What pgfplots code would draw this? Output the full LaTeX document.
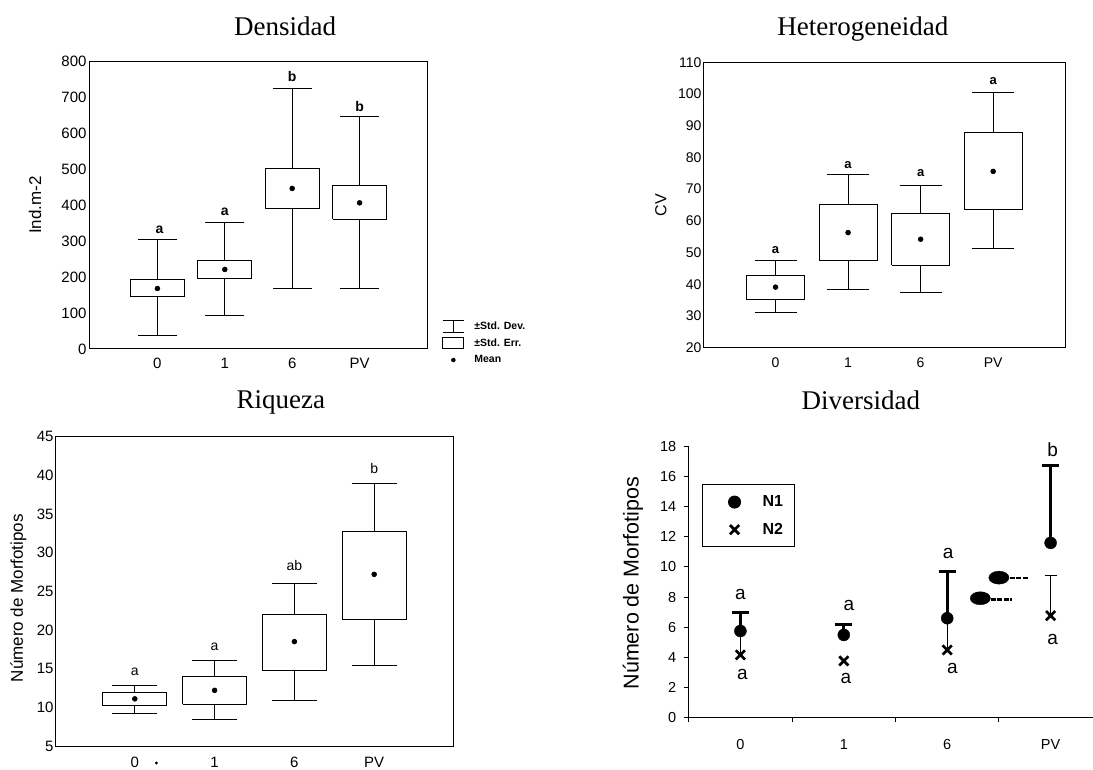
\documentclass[border=0pt]{standalone}
\usepackage{pgfplots}
\pgfplotsset{compat=1.18}
\usepackage{fontspec}
\setmainfont{Liberation Sans}
\newfontfamily\serif{Liberation Serif}
\newcommand{\fs}[1]{\fontsize{#1}{#1}\selectfont}
\begin{document}
\begin{tikzpicture}
\path[use as bounding box] (0pt,0pt) rectangle (1093pt,769pt);
\pgfplotsset{
  myax/.style={scale only axis, anchor=south west, xmin=-1, xmax=4,
    xtick={0,1,2,3}, xticklabels={0,1,6,PV},
    major tick length=0pt, axis line style={line width=1pt},
    /pgf/number format/assume math mode=true,
    xticklabel style={text height=11pt, text depth=0pt},
    title style={anchor=base, font=\serif\fs{27}},
    ylabel style={anchor=center, font=\fs{17}},
    clip=false},
  bx/.style={black, line width=1pt, forget plot, solid, mark=none, fill=white},
  mn/.style={black, only marks, mark=*, mark size=2.5pt, forget plot},
  wk/.style={black, forget plot, only marks, mark=none,
    error bars/.cd, y dir=both, y explicit,
    error bar style={black, solid, line width=1pt},
    error mark=-, error mark options={rotate=90, black, line width=1pt, mark size=#1}},
  myleg/.style={legend image code/.code={\path[draw=none, fill=none] (0pt,-6pt) rectangle (30pt,6pt); \draw[##1] plot coordinates {(23pt,0pt)};}},
}
% ---------------- Densidad
\begin{axis}[myax, at={(90pt,420pt)}, width=337pt, height=288pt,
  ymin=0, ymax=800, ytick={0,100,...,800},
  ticklabel style={font=\fs{15}},
  xticklabel style={yshift=-5pt},
  title={Densidad}, title style={at={(axis description cs:0.579,1)}, yshift=20pt},
  ylabel={Ind.m-2}, ylabel style={at={(axis description cs:-0.163,0.5)}},
  legend style={at={(axis description cs:1.045,0.021)}, anchor=west, draw=none, fill=none,
    inner xsep=0pt, inner ysep=0pt,
    font=\bfseries\fs{10.5}, row sep=4pt,
    /tikz/every odd column/.append style={column sep=8pt}},
  legend cell align=left,
  ]
\addlegendimage{legend image code/.code={\path[draw=none, fill=none] (0pt,-6pt) rectangle (21pt,6pt);
  \draw[black, line width=1pt] (0pt,6pt)--(21pt,6pt) (10.5pt,6pt)--(10.5pt,-6pt) (0pt,-6pt)--(21pt,-6pt);}}
\addlegendentry{±Std. Dev.}
\addlegendimage{legend image code/.code={\path[draw=none, fill=none] (0pt,-6pt) rectangle (21pt,6pt);
  \draw[black, fill=none, line width=1pt] (0pt,-5.5pt) rectangle (21pt,5.5pt);}}
\addlegendentry{±Std. Err.}
\addlegendimage{legend image code/.code={\path[draw=none, fill=none] (0pt,-6pt) rectangle (21pt,6pt);
  \fill[black] (10.5pt,0pt) circle (2pt);}}
\addlegendentry{Mean}
% whiskers (mean +- SD)
\addplot[wk=19.5pt] coordinates {(0,168) += (0,135) -= (0,131)
  (1,221) += (0,130) -= (0,129)
  (2,446) += (0,278) -= (0,278)
  (3,406) += (0,239) -= (0,237)};
% boxes (mean +- SE)
\addplot[bx] coordinates {(-0.4,145) (0.4,145) (0.4,193) (-0.4,193) (-0.4,145)};
\addplot[bx] coordinates {(0.6,195) (1.4,195) (1.4,247) (0.6,247) (0.6,195)};
\addplot[bx] coordinates {(1.6,389) (2.4,389) (2.4,502) (1.6,502) (1.6,389)};
\addplot[bx] coordinates {(2.6,360) (3.4,360) (3.4,455) (2.6,455) (2.6,360)};
\addplot[mn] coordinates {(0,168) (1,221) (2,446) (3,406)};
\node[font=\bfseries\fs{14}] at (axis cs:0.03,330) {a};
\node[font=\bfseries\fs{14}] at (axis cs:1,381) {a};
\node[font=\bfseries\fs{14}] at (axis cs:2,756) {b};
\node[font=\bfseries\fs{14}] at (axis cs:3,675) {b};
\end{axis}
% ---------------- Heterogeneidad
\begin{axis}[myax, at={(703pt,421.3pt)}, width=362.7pt, height=285.4pt,
  ymin=20, ymax=110, ytick={20,30,...,110},
  ticklabel style={font=\fs{14}},
  yticklabel style={xshift=2pt},
  xticklabel style={yshift=-5pt},
  title={Heterogeneidad}, title style={at={(axis description cs:0.441,1)}, yshift=20.5pt},
  ylabel={CV}, ylabel style={at={(axis description cs:-0.116,0.5)}, font=\fs{16}},
  ]
\addplot[wk=21pt] coordinates {(0,39.1) += (0,8.3) -= (0,8.0)
  (1,56.3) += (0,18.3) -= (0,18.1)
  (2,54.2) += (0,17.1) -= (0,16.8)
  (3,75.6) += (0,25.0) -= (0,24.3)};
\addplot[bx] coordinates {(-0.4,35.1) (0.4,35.1) (0.4,42.8) (-0.4,42.8) (-0.4,35.1)};
\addplot[bx] coordinates {(0.6,47.4) (1.4,47.4) (1.4,65.3) (0.6,65.3) (0.6,47.4)};
\addplot[bx] coordinates {(1.6,46.0) (2.4,46.0) (2.4,62.4) (1.6,62.4) (1.6,46.0)};
\addplot[bx] coordinates {(2.6,63.7) (3.4,63.7) (3.4,87.9) (2.6,87.9) (2.6,63.7)};
\addplot[mn] coordinates {(0,39.1) (1,56.3) (2,54.2) (3,75.6)};
\node[font=\bfseries\fs{13}] at (axis cs:0,50.8) {a};
\node[font=\bfseries\fs{13}] at (axis cs:1,77.7) {a};
\node[font=\bfseries\fs{13}] at (axis cs:2,75.0) {a};
\node[font=\bfseries\fs{13}] at (axis cs:3,104) {a};
\end{axis}
% ---------------- Riqueza
\begin{axis}[myax, at={(55pt,23pt)}, width=399pt, height=309.3pt,
  ymin=5, ymax=45, ytick={5,10,...,45},
  ticklabel style={font=\fs{15}},
  yticklabel style={xshift=2pt},
  xticklabel style={yshift=-7pt},
  title={Riqueza}, title style={at={(axis description cs:0.566,1)}, yshift=22pt},
  ylabel={Número de Morfotipos}, ylabel style={at={(axis description cs:-0.092,0.478)}},
  ]
\addplot[wk=22.5pt] coordinates {(0,11.1) += (0,1.7) -= (0,1.9)
  (1,12.2) += (0,3.8) -= (0,3.8)
  (2,18.5) += (0,7.5) -= (0,7.6)
  (3,27.2) += (0,11.7) -= (0,11.8)};
\addplot[bx] coordinates {(-0.4,10.2) (0.4,10.2) (0.4,11.9) (-0.4,11.9) (-0.4,10.2)};
\addplot[bx] coordinates {(0.6,10.4) (1.4,10.4) (1.4,14.0) (0.6,14.0) (0.6,10.4)};
\addplot[bx] coordinates {(1.6,14.7) (2.4,14.7) (2.4,22.0) (1.6,22.0) (1.6,14.7)};
\addplot[bx] coordinates {(2.6,21.4) (3.4,21.4) (3.4,32.8) (2.6,32.8) (2.6,21.4)};
\addplot[mn] coordinates {(0,11.1) (1,12.2) (2,18.5) (3,27.2)};
\addplot[forget plot, only marks, mark=*, mark size=1.3pt, black] coordinates {(0.27,2.8)};
\node[font=\fs{14}] at (axis cs:0,14.6) {a};
\node[font=\fs{14}] at (axis cs:1,17.8) {a};
\node[font=\fs{14}] at (axis cs:2,28.3) {ab};
\node[font=\fs{14}] at (axis cs:3,40.9) {b};
\end{axis}
% ---------------- Diversidad
\begin{axis}[scale only axis, anchor=south west, at={(688.7pt,51.7pt)}, width=404.3pt, height=270.6pt,
  clip=false,
  xmin=-0.5, xmax=3.41, ymin=0, ymax=18, ytick={0,2,...,18},
  axis lines=left, axis line style={-, line width=1pt},
  tick align=outside, major tick length=5pt, tick style={line width=1pt, black},
  xtick={-0.5,0.5,1.5,2.5}, xticklabels={},
  extra x ticks={0,1,2,3}, extra x tick labels={0,1,6,PV},
  extra x tick style={major tick length=0pt, xticklabel style={yshift=-18pt, text height=10.5pt, text depth=0pt}},
  /pgf/number format/assume math mode=true,
  ticklabel style={font=\fs{14.5}},
  yticklabel style={xshift=-4pt},
  title={Diversidad}, title style={at={(axis description cs:0.426,1)}, anchor=base, yshift=30.7pt, font=\serif\fs{27}},
  ylabel={Número de Morfotipos}, ylabel style={at={(axis description cs:-0.138,0.496)}, anchor=center, font=\fs{21.5}},
  legend style={at={(axis description cs:0.033,0.861)}, anchor=north west, draw=black, line width=1pt,
    font=\bfseries\fs{16}, row sep=11pt, inner xsep=9pt, inner ysep=9pt,
    /tikz/every odd column/.append style={column sep=19pt}},
  legend cell align=left,
  ]
% N2 thin error bars
\addplot[forget plot, only marks, mark=none, black, error bars/.cd, y dir=plus, y explicit,
  error bar style={black, line width=1pt}, error mark=none]
  coordinates {(0,4.15) +- (0,1.6) (2,4.48) +- (0,2.1)};
\addplot[forget plot, only marks, mark=none, black, error bars/.cd, y dir=plus, y explicit,
  error bar style={black, line width=1pt}, error mark=-, error mark options={rotate=90, black, line width=1pt, mark size=6pt}]
  coordinates {(3,6.76) +- (0,2.66)};
% N1
\addplot[only marks, mark=*, mark size=6pt, black, myleg,
  error bars/.cd, y dir=plus, y explicit,
  error bar style={black, line width=2.7pt}, error mark=-, error mark options={rotate=90, black, line width=2.7pt, mark size=8.5pt}]
  coordinates {(0,5.74) +- (0,1.22) (1,5.48) +- (0,0.71) (2,6.59) +- (0,3.10) (3,11.6) +- (0,5.14)};
\addlegendentry{N1}
% N2
\addplot[only marks, mark=x, mark size=6.5pt, black, mark options={line width=2.7pt}, myleg]
  coordinates {(0,4.15) (1,3.75) (2,4.48) (3,6.76)};
\addlegendentry{N2}
% blobs
\addplot[forget plot, black, line width=2.5pt, dash pattern=on 5pt off 1.5pt] coordinates {(2.36,7.85) (2.63,7.85)};
\addplot[forget plot, black, line width=2.5pt, dash pattern=on 5pt off 1.5pt] coordinates {(2.54,9.25) (2.78,9.25)};
\addplot[forget plot, only marks, mark=*, black, mark size=6.5pt, mark options={xscale=1.55}] coordinates {(2.32,7.92) (2.50,9.29)};
\node[font=\fs{19}] at (axis cs:0,8.18) {a};
\node[font=\fs{19}] at (axis cs:1.05,7.47) {a};
\node[font=\fs{19}] at (axis cs:2.01,10.9) {a};
\node[font=\fs{19}] at (axis cs:3.02,17.78) {b};
\node[font=\fs{19}] at (axis cs:0.02,2.86) {a};
\node[font=\fs{19}] at (axis cs:1.02,2.6) {a};
\node[font=\fs{19}] at (axis cs:2.05,3.26) {a};
\node[font=\fs{19}] at (axis cs:3.02,5.2) {a};
\end{axis}
\end{tikzpicture}
\end{document}
